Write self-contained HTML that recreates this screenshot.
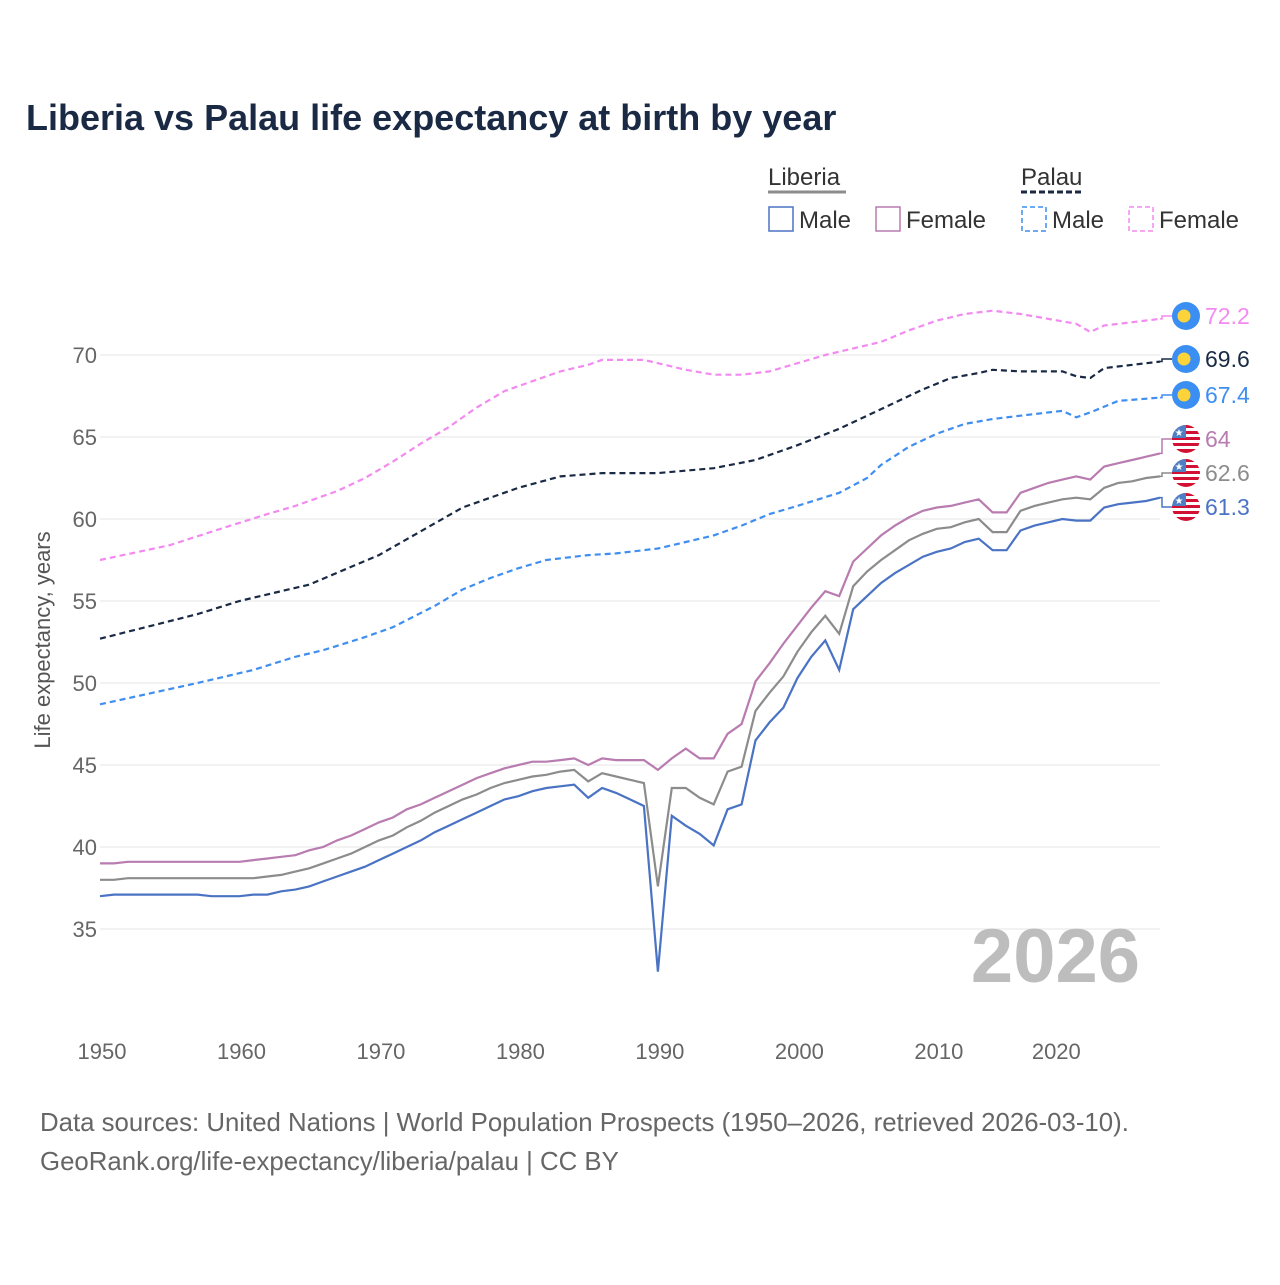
<!DOCTYPE html>
<html><head><meta charset="utf-8"><style>
body{margin:0;background:#fff;font-family:"Liberation Sans",sans-serif}
svg text{font-family:"Liberation Sans",sans-serif}
</style></head><body>
<svg id="chart" width="1280" height="1280" xmlns="http://www.w3.org/2000/svg">
<defs>
<clipPath id="fc"><circle cx="0" cy="0" r="14"/></clipPath>
<g id="lib">
<g clip-path="url(#fc)">
<rect x="-14" y="-14" width="28" height="28" fill="#fff"/>
<rect x="-14" y="-14" width="28" height="3" fill="#d21034"/><rect x="-14" y="-8" width="28" height="3" fill="#d21034"/>
<rect x="-14" y="-2" width="28" height="3" fill="#d21034"/><rect x="-14" y="4" width="28" height="3" fill="#d21034"/>
<rect x="-14" y="10" width="28" height="4" fill="#d21034"/>
<rect x="-14" y="-14" width="14" height="13" fill="#4e7fc4"/>
<text x="-7" y="-3" font-size="10" fill="#fff" text-anchor="middle">★</text>
</g></g>
<g id="pal"><circle r="14" fill="#3b8ff2"/><circle cx="-2" r="6.5" fill="#fdd33a"/></g>
</defs>
<text x="26" y="130" font-size="36" font-weight="bold" fill="#1a2a44">Liberia vs Palau life expectancy at birth by year</text>
<g font-size="24" fill="#333">
<text x="768" y="185">Liberia</text>
<line x1="768" y1="192" x2="846" y2="192" stroke="#8c8c8c" stroke-width="3"/>
<text x="1021" y="185">Palau</text>
<line x1="1021" y1="192" x2="1083" y2="192" stroke="#1a2a44" stroke-width="3" stroke-dasharray="6,3"/>
<g><rect x="769" y="207" width="24" height="24" fill="none" stroke="#4a73c4" stroke-width="1.5"/><text x="799" y="228">Male</text></g>
<g><rect x="876" y="207" width="24" height="24" fill="none" stroke="#b87cb0" stroke-width="1.5"/><text x="906" y="228">Female</text></g>
<g><rect x="1022" y="207" width="24" height="24" fill="none" stroke="#3f8ef0" stroke-width="1.5" stroke-dasharray="5,3"/><text x="1052" y="228">Male</text></g>
<g><rect x="1129" y="207" width="24" height="24" fill="none" stroke="#f38af0" stroke-width="1.5" stroke-dasharray="5,3"/><text x="1159" y="228">Female</text></g>
</g>
<g id="grid"></g>
<g id="yticks"></g>
<g id="xticks"></g>
<text transform="translate(50,640) rotate(-90)" font-size="22" fill="#555" text-anchor="middle">Life expectancy, years</text>
<text x="1140" y="982" font-size="76" font-weight="bold" fill="#bdbdbd" text-anchor="end">2026</text>
<g id="series"></g>
<g id="endlabels"></g>
<text x="40" y="1131" font-size="25.8" fill="#666">Data sources: United Nations | World Population Prospects (1950–2026, retrieved 2026-03-10).</text>
<text x="40" y="1170" font-size="25.8" fill="#666">GeoRank.org/life-expectancy/liberia/palau | CC BY</text>
</svg>
<script>
const yTicks=[35,40,45,50,55,60,65,70];
const xTicks=[1950,1960,1970,1980,1990,2000,2010,2020];
const libYears=[1950,1951,1952,1953,1954,1955,1956,1957,1958,1959,1960,1961,1962,1963,1964,1965,1966,1967,1968,1969,1970,1971,1972,1973,1974,1975,1976,1977,1978,1979,1980,1981,1982,1983,1984,1985,1986,1987,1988,1989,1990,1991,1992,1993,1994,1995,1996,1997,1998,1999,2000,2001,2002,2003,2004,2005,2006,2007,2008,2009,2010,2011,2012,2013,2014,2015,2016,2017,2018,2019,2020,2021,2022,2023,2024,2025,2026];
const libMale=[37.0,37.1,37.1,37.1,37.1,37.1,37.1,37.1,37.0,37.0,37.0,37.1,37.1,37.3,37.4,37.6,37.9,38.2,38.5,38.8,39.2,39.6,40.0,40.4,40.9,41.3,41.7,42.1,42.5,42.9,43.1,43.4,43.6,43.7,43.8,43.0,43.6,43.3,42.9,42.5,32.4,41.9,41.3,40.8,40.1,42.3,42.6,46.5,47.6,48.5,50.3,51.6,52.6,50.8,54.5,55.3,56.1,56.7,57.2,57.7,58.0,58.2,58.6,58.8,58.1,58.1,59.3,59.6,59.8,60.0,59.9,59.9,60.7,60.9,61.0,61.1,61.3];
const libTotal=[38.0,38.0,38.1,38.1,38.1,38.1,38.1,38.1,38.1,38.1,38.1,38.1,38.2,38.3,38.5,38.7,39.0,39.3,39.6,40.0,40.4,40.7,41.2,41.6,42.1,42.5,42.9,43.2,43.6,43.9,44.1,44.3,44.4,44.6,44.7,44.0,44.5,44.3,44.1,43.9,37.6,43.6,43.6,43.0,42.6,44.6,44.9,48.3,49.4,50.4,51.9,53.1,54.1,53.0,55.9,56.8,57.5,58.1,58.7,59.1,59.4,59.5,59.8,60.0,59.2,59.2,60.5,60.8,61.0,61.2,61.3,61.2,61.9,62.2,62.3,62.5,62.6];
const libFemale=[39.0,39.0,39.1,39.1,39.1,39.1,39.1,39.1,39.1,39.1,39.1,39.2,39.3,39.4,39.5,39.8,40.0,40.4,40.7,41.1,41.5,41.8,42.3,42.6,43.0,43.4,43.8,44.2,44.5,44.8,45.0,45.2,45.2,45.3,45.4,45.0,45.4,45.3,45.3,45.3,44.7,45.4,46.0,45.4,45.4,46.9,47.5,50.1,51.2,52.4,53.5,54.6,55.6,55.3,57.4,58.2,59.0,59.6,60.1,60.5,60.7,60.8,61.0,61.2,60.4,60.4,61.6,61.9,62.2,62.4,62.6,62.4,63.2,63.4,63.6,63.8,64.0];
const palTotYears=[1950,1957,1960,1965,1970,1976,1980,1983,1986,1990,1994,1997,2000,2003,2006,2009,2011,2013,2014,2016,2019,2020,2021,2022,2026];
const palTotal=[52.7,54.2,55.0,56.0,57.8,60.7,61.9,62.6,62.8,62.8,63.1,63.6,64.5,65.5,66.7,67.9,68.6,68.9,69.1,69.0,69.0,68.7,68.6,69.2,69.6];
const palMaleYears=[1950,1957,1961,1964,1966,1969,1971,1974,1976,1978,1980,1982,1985,1987,1990,1992,1994,1996,1998,2000,2003,2005,2006,2008,2010,2012,2014,2016,2019,2020,2021,2023,2026];
const palMale=[48.7,50.0,50.8,51.6,52.0,52.8,53.4,54.7,55.7,56.4,57.0,57.5,57.8,57.9,58.2,58.6,59.0,59.6,60.3,60.8,61.6,62.5,63.3,64.4,65.2,65.8,66.1,66.3,66.6,66.2,66.5,67.2,67.4];
const palFemYears=[1950,1955,1959,1962,1964,1967,1969,1971,1973,1975,1977,1979,1981,1983,1985,1986,1989,1990,1992,1994,1996,1998,2000,2002,2004,2006,2008,2010,2012,2014,2016,2018,2020,2021,2022,2024,2026];
const palFemale=[57.5,58.4,59.5,60.3,60.8,61.7,62.5,63.5,64.6,65.6,66.8,67.8,68.4,69.0,69.4,69.7,69.7,69.5,69.1,68.8,68.8,69.0,69.5,70.0,70.4,70.8,71.5,72.1,72.5,72.7,72.5,72.2,71.9,71.4,71.8,72.0,72.2];

const NS='http://www.w3.org/2000/svg';
const X=y=>100+(y-1950)*(1060/76);
const Y=v=>355+(70-v)*16.4;
function mk(tag,at,parent){const e=document.createElementNS(NS,tag);for(const k in at)e.setAttribute(k,at[k]);parent.appendChild(e);return e;}
const grid=document.getElementById('grid'),yt=document.getElementById('yticks'),xt=document.getElementById('xticks');
yTicks.forEach(v=>{
 const l=mk('line',{x1:100,x2:1160,y1:Y(v),y2:Y(v),stroke:'#e6e6e6','stroke-width':1},grid);
 
 
 const t=mk('text',{x:97,y:Y(v)+8,'font-size':22,fill:'#666','text-anchor':'end'},yt);
 t.textContent=v;
 
 
});
xTicks.forEach(v=>{
 const cx=v===2020?X(v)-20:X(v)+2;
 const t=mk('text',{x:cx,y:1059,'font-size':22,fill:'#666','text-anchor':'middle'},xt);
 t.textContent=v;
 
 
});
const sg=document.getElementById('series');
function line(xs,vs,color,dash,name){
 const d=xs.map((y,i)=>(i?'L':'M')+X(y).toFixed(1)+','+Y(vs[i]).toFixed(1)).join('');
 const p=mk('path',{d:d,fill:'none',stroke:color,'stroke-width':2.2},sg);
 if(dash)p.setAttribute('stroke-dasharray','6,4');
 
 
}
line(palFemYears,palFemale,'#f38af0',1,'line-palau-female');
line(palTotYears,palTotal,'#1a2a44',1,'line-palau-total');
line(palMaleYears,palMale,'#3f8ef0',1,'line-palau-male');
line(libYears,libFemale,'#b87cb0',0,'line-liberia-female');
line(libYears,libTotal,'#8c8c8c',0,'line-liberia-total');
line(libYears,libMale,'#4a73c4',0,'line-liberia-male');

const eg=document.getElementById('endlabels');
const ends=[
 [palFemale[palFemale.length-1],316,'#f38af0','pal','palau-female'],
 [palTotal[palTotal.length-1],359,'#1a2a44','pal','palau-total'],
 [palMale[palMale.length-1],395,'#3f8ef0','pal','palau-male'],
 [libFemale[libFemale.length-1],439,'#b87cb0','lib','liberia-female'],
 [libTotal[libTotal.length-1],473,'#8c8c8c','lib','liberia-total'],
 [libMale[libMale.length-1],507,'#4a73c4','lib','liberia-male']];
ends.forEach(e=>{
 const [v,ly,c,f,n]=e;
 const yy=Y(v);
 const pl=mk('polyline',{points:`1160,${yy} 1162,${yy} 1162,${ly} 1172,${ly}`,fill:'none',stroke:c,'stroke-width':1.5},eg);
 
 
 const u=mk('use',{href:'#'+f,x:1186,y:ly},eg);
 
 
 const t=mk('text',{x:1205,y:ly+8,'font-size':23,fill:c},eg);
 t.textContent=v;
 
 
});
</script>
</body></html>
